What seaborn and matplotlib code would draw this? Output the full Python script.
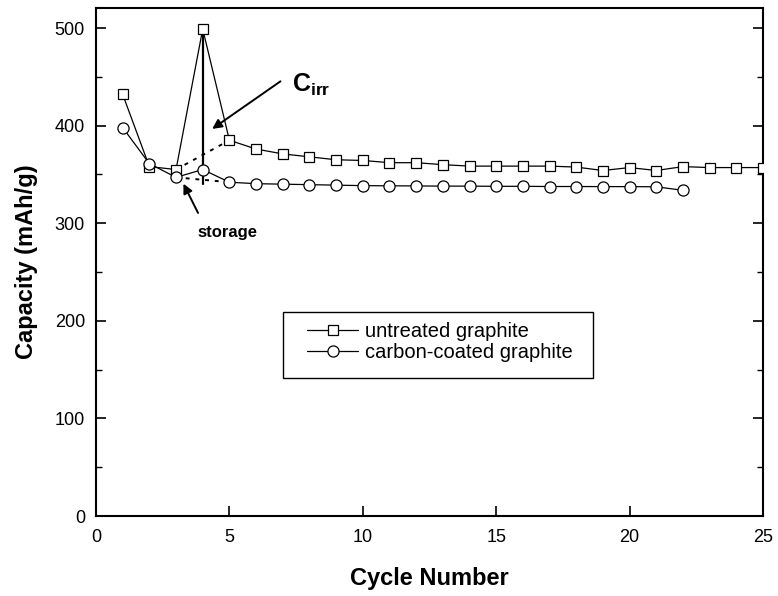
import numpy as np
import pandas as pd
import matplotlib
matplotlib.use("Agg")
import matplotlib.pyplot as plt
import seaborn as sns
from matplotlib.ticker import MultipleLocator
from matplotlib.patches import Rectangle

# ---- data ----
cycles_untreated = list(range(1, 26))
untreated = [432, 358, 355, 499, 385, 376, 371, 368, 365, 364.3, 362, 362, 360,
             358.5, 358.5, 358.5, 358.5, 357.5, 354, 357, 354, 358, 357, 357, 357]
cycles_coated = list(range(1, 23))
coated = [398, 361, 347, 355, 342, 340.5, 340, 339.5, 339, 338.5, 338.3, 338.2, 338,
          338, 337.8, 337.8, 337.6, 337.6, 337.5, 337.5, 337.3, 333.7]
labels = ["untreated graphite", "carbon-coated graphite"]
cirr_low = 340  # lower end of the C_irr vertical bar at cycle 4

sns.set_style("ticks")
plt.rcParams["font.family"] = ["Liberation Sans", "DejaVu Sans"]
plt.rcParams["mathtext.fontset"] = "custom"
plt.rcParams["mathtext.rm"] = "Liberation Sans"
plt.rcParams["mathtext.bf"] = "Liberation Sans:bold"
for k in ["text.color", "axes.labelcolor", "xtick.color", "ytick.color", "axes.edgecolor"]:
    plt.rcParams[k] = "black"

fig = plt.figure(figsize=(7.78, 5.96), dpi=100)
ax = fig.add_axes([0.1234, 0.1342, 0.9807 - 0.1234, 0.9874 - 0.1342])

df_u = pd.DataFrame({"cycle": cycles_untreated, "cap": untreated})
df_c = pd.DataFrame({"cycle": cycles_coated, "cap": coated})

sns.lineplot(data=df_u, x="cycle", y="cap", ax=ax, sort=False, color="black", lw=0.9,
             marker="s", markersize=7, markerfacecolor="white", markeredgecolor="black",
             markeredgewidth=0.9, label=labels[0], zorder=3)
sns.lineplot(data=df_c, x="cycle", y="cap", ax=ax, sort=False, color="black", lw=0.9,
             marker="o", markersize=8, markerfacecolor="white", markeredgecolor="black",
             markeredgewidth=0.9, label=labels[1], zorder=3)

# dotted "storage" connections from cycle 3 to cycle 5
ax.plot([cycles_untreated[2], cycles_untreated[4]], [untreated[2], untreated[4]],
        ls=(0, (2, 3)), color="black", lw=1.4, zorder=2)
ax.plot([cycles_coated[2], cycles_coated[4]], [coated[2], coated[4]],
        ls=(0, (2, 3)), color="black", lw=1.4, zorder=2)
# vertical C_irr bar at cycle 4
ax.plot([cycles_untreated[3], cycles_untreated[3]], [untreated[3], cirr_low],
        color="black", lw=1.6, zorder=2)

# annotations
ax.annotate("", xy=(4.27, 395), xytext=(7.0, 447),
            arrowprops=dict(arrowstyle="-|>", color="black", lw=1.4, mutation_scale=14))
ax.text(7.35, 434.7, r"$\mathbf{C}_{\mathbf{irr}}$", fontsize=18, ha="left", va="baseline")
ax.annotate("", xy=(3.23, 343), xytext=(3.87, 308),
            arrowprops=dict(arrowstyle="-|>", color="black", lw=1.4, mutation_scale=14))
ax.text(4.94, 286, "storage", fontsize=12, fontweight="bold", ha="center", va="baseline")

ax.set_xlim(0, 25)
ax.set_ylim(0, 521)
ax.xaxis.set_major_locator(MultipleLocator(5))
ax.yaxis.set_major_locator(MultipleLocator(100))
ax.yaxis.set_minor_locator(MultipleLocator(50))
ax.tick_params(axis="both", which="major", direction="in", length=7, width=1.2,
               labelsize=13, right=True, top=False, colors="black")
ax.tick_params(axis="x", which="major", pad=9.5)
ax.tick_params(axis="y", which="major", pad=8)
ax.tick_params(axis="y", which="minor", direction="in", length=4, width=1.0, right=True)
for s in ax.spines.values():
    s.set_linewidth(1.5)
    s.set_color("black")
    s.set_visible(True)

ax.set_xlabel("Cycle Number", fontsize=17, fontweight="bold", labelpad=15, color="black")
ax.set_ylabel("Capacity (mAh/g)", fontsize=17, fontweight="bold", labelpad=12, color="black")

leg = ax.legend(loc="upper left", bbox_to_anchor=(0.3163, 0.3815), borderaxespad=0,
                fontsize=14.5, frameon=False, borderpad=0,
                handlelength=2.55, handletextpad=0.35, labelspacing=0.1)
for t in leg.get_texts():
    t.set_color("black")
ax.add_patch(Rectangle((0.2804, 0.2714), 0.4648, 0.1298, transform=ax.transAxes,
                       fill=False, edgecolor="black", lw=1.0, zorder=4))

fig.savefig("out.png", dpi=100)
